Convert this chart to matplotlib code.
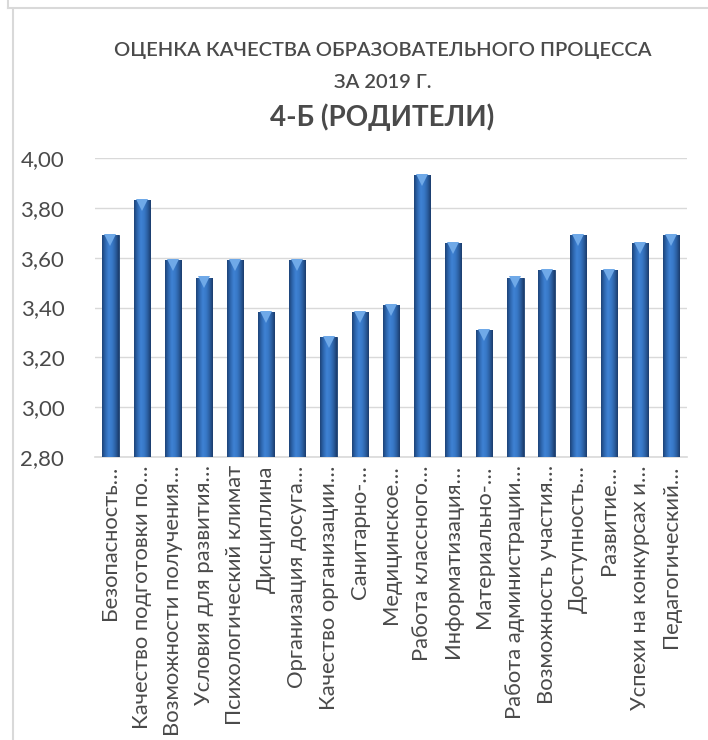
import numpy as np
import matplotlib

matplotlib.use("Agg")
import matplotlib.pyplot as plt
import matplotlib.transforms as mtransforms
from matplotlib.colors import LinearSegmentedColormap
from matplotlib.ticker import FuncFormatter

plt.rcParams["font.family"] = ["Lato", "DejaVu Sans"]

TITLE_LINES = ["ОЦЕНКА КАЧЕСТВА ОБРАЗОВАТЕЛЬНОГО ПРОЦЕССА", "ЗА 2019 Г.", "4-Б (РОДИТЕЛИ)"]

categories = [
    "Безопасность…",
    "Качество подготовки по…",
    "Возможности получения…",
    "Условия для развития…",
    "Психологический климат",
    "Дисциплина",
    "Организация досуга…",
    "Качество организации…",
    "Санитарно-…",
    "Медицинское…",
    "Работа классного…",
    "Информатизация…",
    "Материально-…",
    "Работа администрации…",
    "Возможность участия…",
    "Доступность…",
    "Развитие…",
    "Успехи на конкурсах и…",
    "Педагогический…",
]
scores = [3.69, 3.83, 3.59, 3.52, 3.59, 3.38, 3.59, 3.28, 3.38, 3.41,
          3.93, 3.66, 3.31, 3.52, 3.55, 3.69, 3.55, 3.66, 3.69]

y_ticks = [2.8, 3.0, 3.2, 3.4, 3.6, 3.8, 4.0]

TEXT = "#4A4A4A"
GRID = "#D9D9D9"

fig = plt.figure(figsize=(7.08, 7.40), dpi=100)
ax = fig.add_axes([0.134, 0.3824, 0.836, 0.4041])

x = np.arange(len(categories))
bars = ax.bar(x, [s - y_ticks[0] for s in scores], bottom=y_ticks[0], width=0.52,
              color="#2F6DB8", edgecolor="#1C3F6E", linewidth=0.6, zorder=3)

# cylinder-like shading inside each bar
shade = LinearSegmentedColormap.from_list(
    "shade", ["#1D4378", "#2E67B0", "#3F82D4", "#3879C8", "#2C60A3", "#1B3C6C"])
grad = np.linspace(0, 1, 64).reshape(1, -1)
for rect in bars:
    x0, y0 = rect.get_x(), rect.get_y()
    w, h = rect.get_width(), rect.get_height()
    im = ax.imshow(grad, cmap=shade, aspect="auto", extent=(x0, x0 + w, y0, y0 + h),
                   zorder=4, interpolation="bilinear")
    im.set_clip_path(rect)

# light bevel triangle at the top of every bar
offset = mtransforms.ScaledTranslation(0, -3.5 / 72, fig.dpi_scale_trans)
ax.plot(x, scores, linestyle="none", marker="v", markersize=9, markeredgewidth=0,
        color="#6FA9E8", zorder=5, transform=ax.transData + offset)

ax.set_xlim(-0.5, len(categories) - 0.5)
ax.set_ylim(y_ticks[0], y_ticks[-1])
ax.set_yticks(y_ticks)
ax.yaxis.set_major_formatter(FuncFormatter(lambda v, _: f"{v:.2f}".replace(".", ",")))
ax.set_xticks(x)
ax.set_xticklabels(categories, rotation=90, ha="center", va="top")

ax.grid(axis="y", color=GRID, linewidth=1.0, zorder=0)
ax.tick_params(axis="y", length=0, pad=22, labelsize=16, labelcolor=TEXT)
ax.tick_params(axis="x", length=0, pad=6, labelsize=15.8, labelcolor=TEXT)
for side in ("left", "right", "top"):
    ax.spines[side].set_visible(False)
ax.spines["bottom"].set_color(GRID)
ax.spines["bottom"].set_linewidth(1.2)

fig.text(0.540, 0.932, TITLE_LINES[0], ha="center", va="center", fontsize=14.5,
         color=TEXT, fontweight="semibold")
fig.text(0.540, 0.889, TITLE_LINES[1], ha="center", va="center", fontsize=14.5,
         color=TEXT, fontweight="semibold")
fig.text(0.540, 0.842, TITLE_LINES[2], ha="center", va="center", fontsize=20,
         color=TEXT, fontweight="bold")

# frame remnants of the spreadsheet chart area
frame = dict(color="#D9D9D9", linewidth=1.5, transform=fig.transFigure)
fig.add_artist(plt.Line2D([8 / 708, 1], [1 - 7.5 / 740] * 2, **frame))
fig.add_artist(plt.Line2D([8 / 708] * 2, [1, 1 - 7.5 / 740], **frame))
fig.add_artist(plt.Line2D([12.5 / 708] * 2, [1 - 9 / 740, 0], **frame))

fig.savefig("out.png", dpi=100)
